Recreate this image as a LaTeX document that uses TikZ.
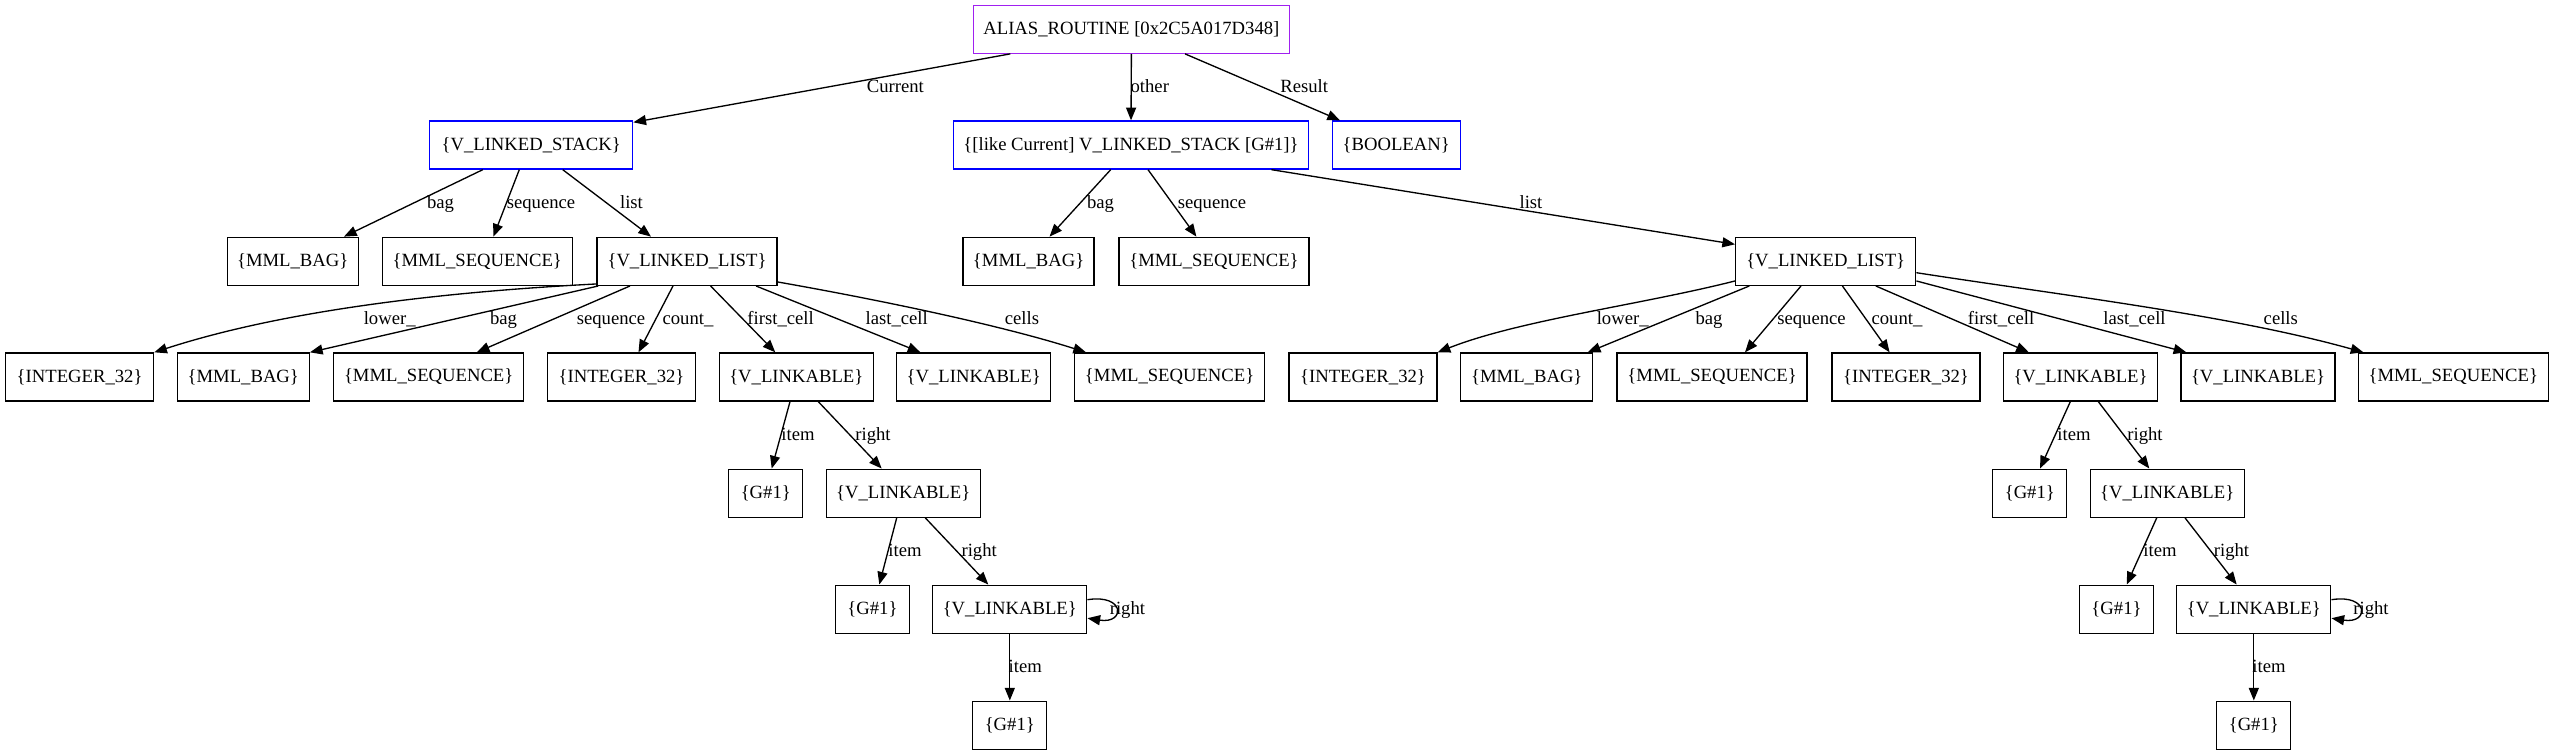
\documentclass[tikz,border=0pt]{standalone}
\usepackage{fontspec}
\setmainfont{Liberation Serif}
\usetikzlibrary{arrows.meta,calc}
\definecolor{rootcol}{RGB}{160,32,240}
\definecolor{stackcol}{RGB}{0,0,255}
\tikzset{
  box/.style={draw=black, rectangle, minimum height=36pt, inner sep=0pt, line width=1pt,
    font=\fontsize{14}{16}\selectfont, minimum width=#1*0.75pt},
  bluebox/.style={box=#1, draw=stackcol},
  rootbox/.style={box=#1, draw=rootcol},
  arr/.style={-{Triangle[length=9.5pt,width=7.5pt]}, line width=1pt},
  lbl/.style={inner sep=0pt, text height=9.5pt, text depth=0.5pt, font=\fontsize{14}{16}\selectfont}
}
\begin{document}
\begin{tikzpicture}[x=0.75pt,y=-0.75pt]
\useasboundingbox (0,0) rectangle (2555,755);
% row 0
\node[rootbox=316] (root) at (1131.4,29.2) {ALIAS\_ROUTINE [0x2C5A017D348]};
% row 1
\node[bluebox=203] (stack) at (531.2,145) {\{V\_LINKED\_STACK\}};
\node[bluebox=355] (like) at (1131,145) {\{[like Current] V\_LINKED\_STACK [G\#1]\}};
\node[bluebox=128] (bool) at (1396.2,145) {\{BOOLEAN\}};
% row 2
\node[box=131] (lbag) at (292.7,261.3) {\{MML\_BAG\}};
\node[box=190] (lseq) at (477.2,261.3) {\{MML\_SEQUENCE\}};
\node[box=180] (llist) at (687,261.3) {\{V\_LINKED\_LIST\}};
\node[box=131] (rbag) at (1028.6,261.3) {\{MML\_BAG\}};
\node[box=190] (rseq) at (1214,261.3) {\{MML\_SEQUENCE\}};
\node[box=180] (rlist) at (1825.7,261.3) {\{V\_LINKED\_LIST\}};
% row 3
\node[box=148] (l1) at (79.6,377) {\{INTEGER\_32\}};
\node[box=132] (l2) at (243.3,377) {\{MML\_BAG\}};
\node[box=190] (l3) at (428.7,377) {\{MML\_SEQUENCE\}};
\node[box=148] (l4) at (621.5,377) {\{INTEGER\_32\}};
\node[box=154] (l5) at (796.3,377) {\{V\_LINKABLE\}};
\node[box=154] (l6) at (973.7,377) {\{V\_LINKABLE\}};
\node[box=190] (l7) at (1169.6,377) {\{MML\_SEQUENCE\}};
\node[box=148] (r1) at (1363,377) {\{INTEGER\_32\}};
\node[box=132] (r2) at (1526.8,377) {\{MML\_BAG\}};
\node[box=190] (r3) at (1712.1,377) {\{MML\_SEQUENCE\}};
\node[box=148] (r4) at (1906,377) {\{INTEGER\_32\}};
\node[box=154] (r5) at (2080.5,377) {\{V\_LINKABLE\}};
\node[box=154] (r6) at (2258,377) {\{V\_LINKABLE\}};
\node[box=190] (r7) at (2453.3,377) {\{MML\_SEQUENCE\}};
% row 4
\node[box=74] (lg1) at (765.8,493.2) {\{G\#1\}};
\node[box=154] (lk1) at (903.2,493.2) {\{V\_LINKABLE\}};
\node[box=74] (rg1) at (2029.8,493.2) {\{G\#1\}};
\node[box=154] (rk1) at (2167.2,493.2) {\{V\_LINKABLE\}};
% row 5
\node[box=74] (lg2) at (872.5,609.2) {\{G\#1\}};
\node[box=154] (lk2) at (1009.8,609.2) {\{V\_LINKABLE\}};
\node[box=74] (rg2) at (2116.5,609.2) {\{G\#1\}};
\node[box=154] (rk2) at (2253.8,609.2) {\{V\_LINKABLE\}};
% row 6
\node[box=74] (lg3) at (1009.8,725.2) {\{G\#1\}};
\node[box=74] (rg3) at (2253.8,725.2) {\{G\#1\}};

% edges from root
\draw[arr] ($(root.south)+(-121.1,0)$) -- ($(stack.north east)+(0,2)$);
\draw[arr] (root.south) -- (like.north);
\draw[arr] ($(root.south)+(53.6,0)$) -- ($(bool.north)+(-56.2,0)$);
\node[lbl] (lCur) at (895.3,86.7) {Current};
\node[lbl] (lOth) at (1149.8,86.7) {other};
\node[lbl] (lRes) at (1304.2,86.7) {Result};
% stack
\draw[arr] ($(stack.south)+(-48.4,0)$) -- ($(lbag.north)+(51.3,0)$);
\draw[arr] ($(stack.south)+(-11.9,0)$) -- ($(lseq.north)+(16.2,0)$);
\draw[arr] ($(stack.south)+(31.5,0)$) -- ($(llist.north)+(-36,0)$);
\node[lbl] (e1) at (440.5,203) {bag};
\node[lbl] (e2) at (541,203) {sequence};
\node[lbl] (e3) at (631.5,203) {list};
% like
\draw[arr] ($(like.south)+(-20.3,0)$) -- ($(rbag.north)+(20.9,0)$);
\draw[arr] ($(like.south)+(17,0)$) -- ($(rseq.north)+(-17.6,0)$);
\draw[arr] ($(like.south)+(140.4,0)$) -- ($(rlist.north west)+(0,7.7)$);
\node[lbl] (e4) at (1100.5,203) {bag};
\node[lbl] (e5) at (1212,203) {sequence};
\node[lbl] (e6) at (1531,203) {list};
% left list
\draw[arr] ($(llist.south west)+(0,-2)$) .. controls (480,290) and (300,305) .. (l1.north east);
\draw[arr] ($(llist.south west)+(2,0)$) -- (l2.north east);
\draw[arr] ($(llist.south)+(-57,0)$) -- ($(l3.north)+(48.1,0)$);
\draw[arr] ($(llist.south)+(-14,0)$) -- ($(l4.north)+(17,0)$);
\draw[arr] ($(llist.south)+(23.6,0)$) -- ($(l5.north)+(-21,0)$);
\draw[arr] ($(llist.south)+(69,0)$) -- ($(l6.north)+(-53.3,0)$);
\draw[arr] ($(llist.south east)+(0,-4)$) .. controls (880,300) and (1000,325) .. ($(l7.north)+(-83.6,0)$);
\node[lbl] (e7) at (389.7,318.3) {lower\_};
\node[lbl] (e8) at (503.5,318.3) {bag};
\node[lbl] (e9) at (611,318.3) {sequence};
\node[lbl] (e10) at (688,318.3) {count\_};
\node[lbl] (e11) at (780.6,318.3) {first\_cell};
\node[lbl] (e12) at (896.7,318.3) {last\_cell};
\node[lbl] (e13) at (1022,318.3) {cells};
% right list
\draw[arr] ($(rlist.south west)+(0,-5)$) .. controls (1640,305) and (1520,320) .. (r1.north east);
\draw[arr] ($(rlist.south west)+(14.3,0)$) -- ($(r2.north)+(61,0)$);
\draw[arr] ($(rlist.south)+(-24.7,0)$) -- ($(r3.north)+(32.9,0)$);
\draw[arr] ($(rlist.south)+(16.7,0)$) -- ($(r4.north)+(-16.4,0)$);
\draw[arr] ($(rlist.south)+(50.1,0)$) -- ($(r5.north)+(-51.7,0)$);
\draw[arr] ($(rlist.south east)+(0,-5)$) -- ($(r6.north)+(-71.7,0)$);
\draw[arr] ($(rlist.east)+(0,11.4)$) .. controls (2060,295) and (2230,315) .. ($(r7.north)+(-89.9,0)$);
\node[lbl] (e14) at (1622.7,318.3) {lower\_};
\node[lbl] (e15) at (1709,318.3) {bag};
\node[lbl] (e16) at (1811.5,318.3) {sequence};
\node[lbl] (e17) at (1897,318.3) {count\_};
\node[lbl] (e18) at (2001,318.3) {first\_cell};
\node[lbl] (e19) at (2134.5,318.3) {last\_cell};
\node[lbl] (e20) at (2280.8,318.3) {cells};
% lower left
\draw[arr] ($(l5.south)+(-6.3,0)$) -- ($(lg1.north)+(5.9,0)$);
\draw[arr] ($(l5.south)+(22,0)$) -- ($(lk1.north)+(-21.5,0)$);
\draw[arr] ($(lk1.south)+(-6.5,0)$) -- ($(lg2.north)+(6.8,0)$);
\draw[arr] ($(lk1.south)+(22.1,0)$) -- ($(lk2.north)+(-21.5,0)$);
\draw[arr] (lk2.south) -- (lg3.north);
\draw[arr] ($(lk2.east)+(0,-9.5)$) .. controls +(38,-6) and +(38,6) .. ($(lk2.east)+(0,9)$);
\node[lbl] (e21) at (798,434) {item};
\node[lbl] (e22) at (873,434) {right};
\node[lbl] (e23) at (905,550) {item};
\node[lbl] (e24) at (979.2,550) {right};
\node[lbl] (e25) at (1025.3,666) {item};
\node[lbl] (e26) at (1127.4,608.7) {right};
% lower right
\draw[arr] ($(r5.south)+(-10.2,0)$) -- ($(rg1.north)+(10.2,0)$);
\draw[arr] ($(r5.south)+(17.8,0)$) -- ($(rk1.north)+(-17.9,0)$);
\draw[arr] ($(rk1.south)+(-10.5,0)$) -- ($(rg2.north)+(10.2,0)$);
\draw[arr] ($(rk1.south)+(17.8,0)$) -- ($(rk2.north)+(-17.1,0)$);
\draw[arr] (rk2.south) -- (rg3.north);
\draw[arr] ($(rk2.east)+(0,-9.5)$) .. controls +(38,-6) and +(38,6) .. ($(rk2.east)+(0,9)$);
\node[lbl] (e27) at (2074,434) {item};
\node[lbl] (e28) at (2145,434) {right};
\node[lbl] (e29) at (2160,550) {item};
\node[lbl] (e30) at (2231.5,550) {right};
\node[lbl] (e31) at (2269,666) {item};
\node[lbl] (e32) at (2371,608.7) {right};
\end{tikzpicture}
\end{document}
